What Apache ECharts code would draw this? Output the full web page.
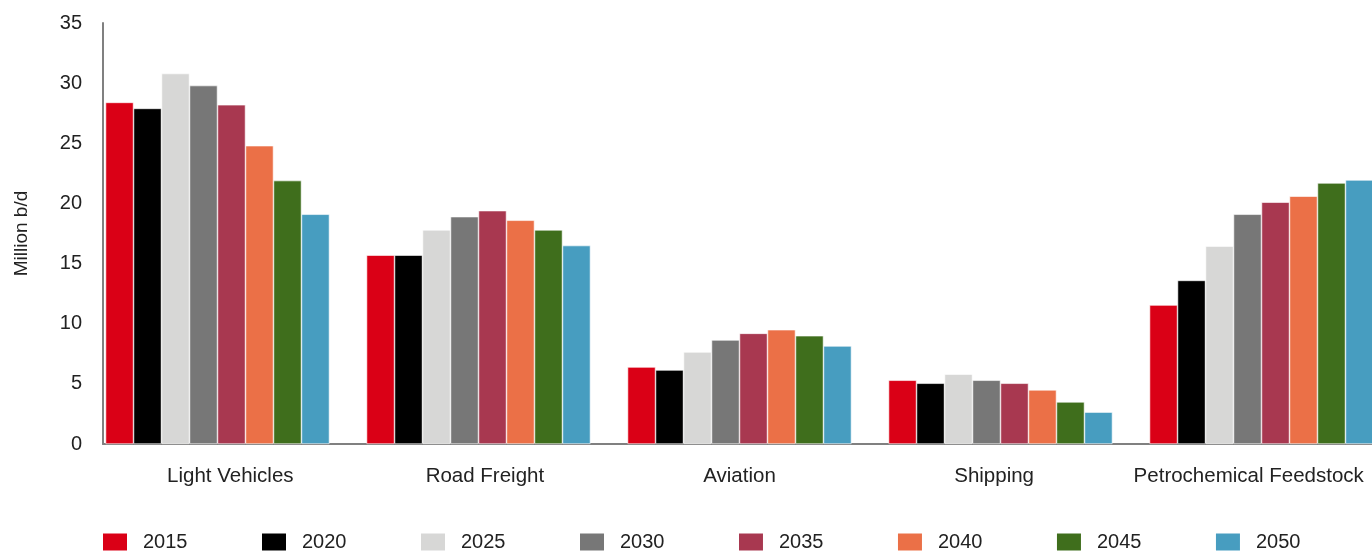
<!DOCTYPE html>
<html>
<head>
<meta charset="utf-8">
<style>
  html, body { margin: 0; padding: 0; background: #fff; overflow: hidden; }
  /* the last group runs past the right edge of the page */
  #chart { width: 1400px; height: 553px; }
</style>
<script src="https://cdn.jsdelivr.net/npm/echarts@6/dist/echarts.min.js"></script>
</head>
<body>
<div id="chart"></div>
<script>
// Oil demand by sector, million barrels per day
const categories = ['Light Vehicles', 'Road Freight', 'Aviation', 'Shipping', 'Petrochemical Feedstock'];
const years = ['2015', '2020', '2025', '2030', '2035', '2040', '2045', '2050'];

const d2015 = [28.4, 15.7, 6.4, 5.3, 11.55];
const d2020 = [27.9, 15.7, 6.15, 5.05, 13.6];
const d2025 = [30.8, 17.8, 7.65, 5.8, 16.45];
const d2030 = [29.8, 18.9, 8.65, 5.3, 19.1];
const d2035 = [28.2, 19.4, 9.2, 5.05, 20.1];
const d2040 = [24.8, 18.6, 9.5, 4.5, 20.6];
const d2045 = [21.9, 17.8, 9.0, 3.5, 21.7];
const d2050 = [19.1, 16.5, 8.15, 2.65, 21.95];

const yTicks = { min: 0, max: 35, interval: 5 };

const seriesValues = [d2015, d2020, d2025, d2030, d2035, d2040, d2045, d2050];
const colors = ['#DA0016', '#000000', '#D7D7D6', '#777777', '#A83850', '#EB7047', '#3F6E1C', '#479DC0'];

const FONT = 'Liberation Sans, Arial, sans-serif';
const TEXT = '#222';
const AXIS_GRAY = '#808080';

const chart = echarts.init(document.getElementById('chart'), null, { renderer: 'canvas' });

chart.setOption({
  animation: false,
  color: colors,
  textStyle: { fontFamily: FONT },
  grid: [
    // bars
    { left: 87, top: 23, width: 1305, bottom: 109 },
    // visible axes and labels
    { left: 103, top: 23, width: 1273, bottom: 109 }
  ],
  xAxis: [
    {
      gridIndex: 0, type: 'category', data: categories, show: false
    },
    {
      gridIndex: 1, type: 'category', data: categories,
      axisLine: { show: true, lineStyle: { color: AXIS_GRAY, width: 2 } },
      axisTick: { show: false },
      axisLabel: { color: TEXT, fontSize: 20.5, margin: 22, interval: 0, fontFamily: FONT },
      splitLine: { show: false }
    }
  ],
  yAxis: [
    {
      gridIndex: 0, type: 'value', min: yTicks.min, max: yTicks.max, interval: yTicks.interval,
      show: false
    },
    {
      gridIndex: 1, type: 'value', min: yTicks.min, max: yTicks.max, interval: yTicks.interval,
      name: 'Million b/d', nameLocation: 'middle', nameRotate: 90, nameGap: 72,
      nameTextStyle: { color: TEXT, fontSize: 19, fontFamily: FONT },
      axisLine: { show: true, lineStyle: { color: AXIS_GRAY, width: 2 } },
      axisTick: { show: false },
      axisLabel: { color: TEXT, fontSize: 20, margin: 21, fontFamily: FONT },
      splitLine: { show: false }
    }
  ],
  legend: {
    top: 532,
    left: 103,
    padding: 0,
    itemWidth: 24,
    itemHeight: 17,
    itemGap: 74.5,
    icon: 'rect',
    itemStyle: { borderWidth: 0 },
    textStyle: { color: TEXT, fontSize: 20, fontFamily: FONT, padding: [0, 0, 0, 11] },
    data: years
  },
  series: years.map((y, i) => ({
    name: y,
    type: 'bar',
    xAxisIndex: 0,
    yAxisIndex: 0,
    data: seriesValues[i],
    barGap: '0%',
    barCategoryGap: '14.2%',
    itemStyle: { color: colors[i], borderColor: '#fff', borderWidth: 0.6 }
  }))
});
</script>
</body>
</html>
